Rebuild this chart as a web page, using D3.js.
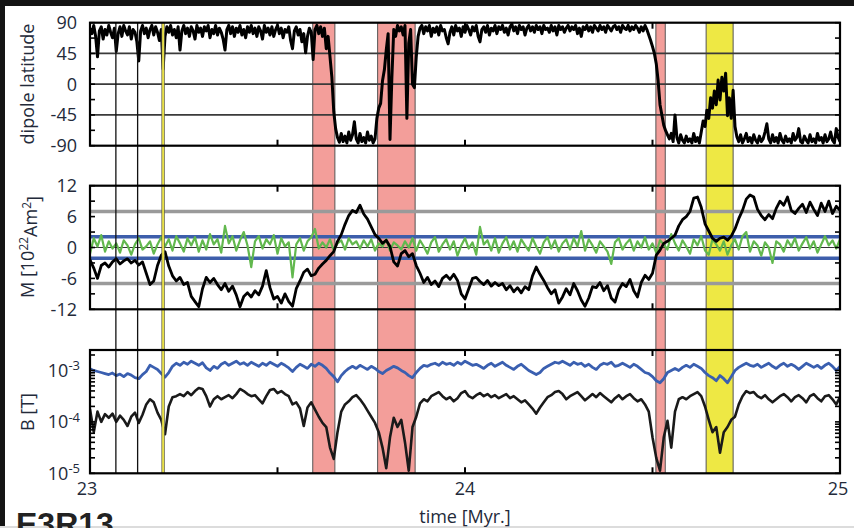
<!DOCTYPE html>
<html>
<head>
<meta charset="utf-8">
<script src="https://cdn.jsdelivr.net/npm/d3@7/dist/d3.min.js"></script>
<style>
  html, body { margin: 0; padding: 0; background: #fff; }
  svg { display: block; }
  text { font-family: "Open Sans", "Noto Sans", sans-serif; fill: #232a3a; }
</style>
</head>
<body>
<svg id="chart" width="854" height="528"></svg>
<script>
// ---- time axis: series start at 23 Myr ----
const timeStart = 23;
const latStep = 0.005;   // latitude sampled every 0.005 Myr
const timeStep = 0.01;   // other series every 0.01 Myr

// dipole latitude [deg]
const dipoleLatitude = [
  82,74,86,70,40,78,84,66,80,72, 86,76,68,82,48,74,84,70,86,78,
  72,84,66,80,76,62,34,78,86,74, 82,68,80,86,72,84,76,64,80,22,
  70,84,76,86,72,80,68,84,50,78, 86,74,82,70,84,78,66,86,76,82,
  70,84,78,86,68,80,74,86,72,82, 76,66,50,80,86,74,84,70,82,76,
  86,72,80,68,84,76,86,74,82,70, 84,78,66,86,76,82,72,84,70,80,
  86,74,82,68,80,76,84,64,52,78, 84,72,80,62,74,46,70,82,76,36,
  80,86,74,84,70,82,52,70,40,10, -40,-65,-78,-85,-72,-84,-76,-86,-70,-82,
  -74,-55,-80,-86,-72,-84,-78,-86,-70,-82, -76,-86,-80,-50,-35,-28,5,21,50,74,
  -81,10,80,70,86,78,84,72,86,-50, 60,80,0,-5,40,70,82,86,74,84,
  78,86,70,82,76,84,72,86,78,80, 68,59,76,84,72,86,78,82,70,84,
  76,86,80,72,84,78,86,70,62,80, 84,76,86,72,82,78,86,74,84,80,
  86,76,82,72,84,88,78,84,74,86, 80,84,72,82,86,78,84,76,86,80,
  84,74,86,80,82,76,86,78,84,72, 86,80,84,76,82,86,78,84,80,86,
  74,82,70,84,80,86,78,84,76,86, 82,78,86,80,84,76,86,82,78,84,
  86,80,84,76,86,82,80,86,78,84, 80,86,82,76,84,78,86,80,72,64,
  55,45,30,5,-30,-45,-60,-68,-74,-80, -72,-84,-45,-78,-86,-74,-82,-86,-76,-84,
  -80,-86,-72,-84,-78,-86,-70,-54,-62,-38, -50,-20,-35,-10,-30,6,-23,10,-10,16,
  -46,-20,-50,-9,-62,-77,-84,-74,-86,-80, -72,-84,-78,-86,-74,-82,-86,-76,-84,-80,
  -70,-58,-80,-86,-74,-84,-78,-86,-72,-82, -86,-76,-84,-80,-86,-72,-82,-78,-65,-84,
  -86,-76,-82,-86,-74,-84,-80,-86,-72,-82, -78,-86,-74,-84,-80,-70,-82,-86,-65,-78,
  -84
];

// axial dipole moment M [10^22 Am^2]
const momentAxial = [
  -2.4,-4,-6,-3.5,-3,-3.8,-2.8,-2.2,-3.2,-2.6, -2.2,-3,-2.5,-3.4,-2.8,-5,-7.2,-6.5,-3.5,-1.5,
  -0.8,-3.6,-5.5,-6.5,-5.8,-7.2,-6.8,-9.5,-10.5,-11.5, -8,-5.8,-6.8,-6,-7.2,-8.2,-7,-8.5,-7.5,-9.2,
  -11.5,-9.5,-8.8,-9.6,-8.4,-9.2,-7.5,-4.5,-7.8,-10, -9.5,-10.8,-9,-10.5,-11.4,-8,-6.5,-4.8,-4.2,-5.5,
  -5.2,-4,-3.2,-2.5,-1.6,-0.8,1.2,2.5,4.5,6.2, 7.2,6.8,8.2,6.5,5.5,4,2.5,1.8,0.8,1.4,
  0.2,-2.8,-3.6,-1.2,-0.6,-1.8,-1.2,-3.5,-5,-6.8, -5.8,-7.2,-6.5,-7.6,-6,-5.4,-6.2,-5.2,-6.4,-9,
  -10,-8,-6,-5.8,-6.6,-7.2,-6.4,-7.5,-6.8,-7.4, -7,-8.2,-7.4,-8.6,-7.8,-8.8,-7.6,-8.2,-5.5,-3.8,
  -5.2,-6.4,-7.8,-9,-8.2,-10.8,-9.6,-8,-9.2,-7, -8.4,-10.2,-11.4,-9.8,-7.6,-7.8,-6.8,-8.4,-7.4,-9.8,
  -10.6,-8.2,-7,-7.6,-6.2,-8.4,-9.6,-6.8,-5.4,-6.2, -5,-1.5,-0.5,0.8,1.2,1.8,2.4,4.2,5.4,6,
  7,9.6,9.8,7.8,4.6,3.2,1.8,1.2,1.8,2.0, 1.4,2.2,3.6,5.6,7.2,9.4,10.2,9.8,7.4,6.2,
  5.4,6.4,5.6,7.6,9,8.2,9.8,7.2,6.6,7.6, 8.4,6.8,8.8,7.4,6.2,8.6,7,9,6.6,8,
  7.2
];

// equatorial dipole component [10^22 Am^2]
const momentEquatorial = [
  -1.2,1.8,0.2,2.4,-0.8,1.2,-0.2,0.8,-1.0,1.4, 0.4,-1.4,0.6,1.8,-0.4,0.2,1.2,-1.2,0.6,2.0,
  0.2,1.6,-0.6,2.2,0.8,-0.8,1.8,0.4,2.0,-0.8, 1.4,-0.4,2.6,0.6,1.6,-1.0,4.2,0.8,2.2,-0.6,
  1.4,3.0,0.4,-3.8,1.2,2.2,-0.2,1.6,0.6,2.4, -1.2,1.8,0.2,1.0,-5.8,0.6,1.8,-0.6,1.2,2.0,
  3.6,-0.2,1.0,0.0,1.6,-0.6,0.8,1.4,-0.4,1.8, 0.6,1.2,-0.2,1.4,0.2,1.6,-0.6,0.8,0.2,1.6,
  -0.6,1.0,0.4,-0.4,1.2,0.0,1.8,-0.6,1.4,0.2, -1.2,1.0,2.0,-0.8,0.6,1.6,-0.4,1.2,-1.6,0.4,
  1.8,-0.2,1.0,-1.4,4.0,0.6,1.4,-0.6,1.8,-1.0, 0.8,2.0,-0.4,1.2,-0.8,1.6,0.4,-0.6,1.8,0.2,
  -1.2,1.0,2.0,-0.2,1.4,-0.8,0.8,1.6,-0.4,1.8, 0.2,3.2,-0.6,1.6,0.4,-1.0,1.2,0.2,-0.8,-3.2,
  1.0,1.8,-0.4,0.8,1.6,-0.6,1.2,0.0,2.0,-0.4, 0.8,-1.0,1.4,0.6,-0.4,2.6,0.8,-0.6,1.4,0.2,
  -1.2,1.6,0.4,2.2,-0.6,-1.4,1.6,0.6,-0.6,1.2, -1.4,0.4,1.6,-0.4,2.2,3.0,-0.8,1.2,0.4,-1.6,
  1.0,0.0,-3.0,1.2,0.6,-0.8,1.4,0.2,1.8,-0.6, 0.8,2.0,-0.2,1.2,-1.0,0.6,2.2,0.4,1.4,-0.2,
  1.6
];

// field strength, log10 of B [T]: RMS field (blue) and dipole field (black)
const log10FieldRms = [
  -2.97,-3.0,-3.02,-3.04,-3.06,-3.08,-3.05,-3.1,-3.07,-3.12, -3.06,-3.09,-3.14,-3.16,-3.08,-3.02,-2.9,-2.94,-2.98,-3.06,
  -3.13,-3.04,-2.92,-2.86,-2.9,-2.84,-2.88,-2.82,-2.86,-2.9, -2.85,-2.95,-3.0,-2.92,-2.96,-2.88,-2.84,-2.9,-2.86,-2.82,
  -2.88,-2.85,-2.9,-2.84,-2.88,-2.92,-2.86,-2.9,-2.84,-2.88, -2.92,-2.86,-2.9,-2.95,-3.02,-2.94,-2.88,-2.92,-2.96,-2.88,
  -2.92,-2.86,-2.9,-2.96,-3.05,-3.12,-3.22,-3.1,-3.02,-2.96, -2.92,-2.96,-2.9,-2.94,-2.98,-2.92,-2.96,-3.02,-3.06,-3.0,
  -2.96,-2.92,-2.95,-3.0,-3.04,-3.1,-3.14,-3.04,-2.96,-2.9, -2.92,-2.88,-2.86,-2.9,-2.84,-2.88,-2.86,-2.9,-2.84,-2.88,
  -2.82,-2.86,-2.9,-2.88,-2.92,-2.96,-2.9,-2.86,-2.92,-2.88, -2.84,-2.9,-2.94,-2.98,-2.92,-2.88,-2.94,-3.0,-3.04,-3.08,
  -3.04,-2.96,-2.92,-2.88,-2.84,-2.86,-2.82,-2.86,-2.9,-2.84, -2.88,-2.86,-2.92,-2.88,-2.94,-2.98,-2.9,-2.86,-2.88,-2.84,
  -2.92,-2.9,-2.86,-2.9,-2.94,-2.88,-2.92,-2.98,-3.04,-3.06, -3.12,-3.2,-3.24,-3.16,-3.04,-3.0,-2.96,-3.0,-2.94,-2.9,
  -2.94,-2.88,-2.92,-2.96,-3.04,-3.1,-3.14,-3.2,-3.1,-3.16, -3.24,-3.12,-3.0,-2.94,-2.9,-2.86,-2.9,-2.92,-2.88,-2.94,
  -2.9,-2.86,-2.92,-2.96,-2.9,-2.86,-2.92,-2.88,-2.92,-2.98, -2.92,-2.86,-2.9,-2.94,-2.9,-2.96,-2.9,-2.86,-2.92,-3.0,
  -2.92
];
const log10FieldDipole = [
  -3.75,-4.2,-3.8,-4.0,-3.85,-3.92,-3.84,-4.0,-3.88,-3.96, -4.08,-3.9,-3.82,-4.02,-3.86,-3.66,-3.56,-3.62,-3.82,-3.96,
  -4.24,-3.7,-3.52,-3.5,-3.46,-3.5,-3.42,-3.48,-3.4,-3.34, -3.36,-3.5,-3.7,-3.56,-3.5,-3.56,-3.52,-3.48,-3.54,-3.46,
  -3.36,-3.4,-3.46,-3.5,-3.48,-3.56,-3.64,-3.5,-3.38,-3.36, -3.44,-3.4,-3.46,-3.5,-3.66,-3.62,-3.74,-4.08,-3.72,-3.62,
  -3.76,-3.9,-4.02,-4.1,-4.5,-4.72,-4.2,-3.8,-3.66,-3.6, -3.52,-3.48,-3.56,-3.66,-3.78,-3.9,-4.02,-4.2,-4.5,-4.9,
  -4.3,-3.92,-4.1,-3.96,-4.4,-4.95,-4.1,-3.9,-3.64,-3.56, -3.6,-3.5,-3.46,-3.42,-3.5,-3.56,-3.52,-3.6,-3.54,-3.44,
  -3.4,-3.5,-3.54,-3.48,-3.44,-3.5,-3.46,-3.52,-3.48,-3.54, -3.5,-3.46,-3.54,-3.5,-3.56,-3.62,-3.58,-3.66,-3.74,-3.84,
  -3.72,-3.62,-3.52,-3.48,-3.42,-3.4,-3.46,-3.56,-3.5,-3.46, -3.42,-3.5,-3.58,-3.52,-3.46,-3.52,-3.44,-3.5,-3.56,-3.62,
  -3.54,-3.48,-3.56,-3.5,-3.46,-3.54,-3.6,-3.56,-3.66,-3.8, -4.3,-4.7,-4.95,-4.3,-3.98,-4.5,-3.8,-3.56,-3.52,-3.56,
  -3.5,-3.46,-3.42,-3.5,-3.7,-3.96,-4.2,-4.1,-4.6,-4.2, -4.1,-3.96,-3.9,-3.66,-3.5,-3.4,-3.44,-3.42,-3.5,-3.54,
  -3.48,-3.56,-3.62,-3.56,-3.5,-3.46,-3.52,-3.6,-3.52,-3.48, -3.54,-3.62,-3.5,-3.46,-3.54,-3.6,-3.5,-3.48,-3.56,-3.66,
  -3.52
];

// highlighted intervals [Myr]: reversals (red) and excursion (yellow)
const reversalIntervals = [[23.594, 23.653], [23.767, 23.867], [24.509, 24.534]];
const excursionIntervals = [[24.643, 24.715]];
// marker times drawn as thin vertical lines
const markerLines = [23.069, 23.127];
const markerYellow = [23.195];

// tick labels
const latTicks = [90, 45, 0, -45, -90];
const latGrid = [45, 0, -45];
const momentTicks = [12, 6, 0, -6, -12];
const momentRefGray = [7, -7];
const momentRefBlue = [2.1, -2.1];
const fieldTicks = [1e-3, 1e-4, 1e-5];
const timeTicks = [23, 24, 25];

// ---- layout ----
const svg = d3.select("#chart");
const X0 = 90, X1 = 840;
const panels = {
  lat: [22.7, 145.7],
  mom: [185.7, 309.3],
  fld: [350, 473.3]
};

const x = d3.scaleLinear([23, 25], [X0, X1]);
const yLat = d3.scaleLinear([-90, 90], [panels.lat[1], panels.lat[0]]);
const yMom = d3.scaleLinear([-12, 12], [panels.mom[1], panels.mom[0]]);
const yFld = d3.scaleLog([1e-5, 2.5e-3], [panels.fld[1], panels.fld[0]]);

// page frame
svg.append("rect").attr("x", 0).attr("y", 0).attr("width", 854).attr("height", 6).attr("fill", "#141414");
svg.append("rect").attr("x", 0).attr("y", 0).attr("width", 5).attr("height", 528).attr("fill", "#141414");
svg.append("rect").attr("x", 0).attr("y", 526).attr("width", 854).attr("height", 2).attr("fill", "#dcdcdc");

// clip paths per panel
const defs = svg.append("defs");
Object.entries(panels).forEach(([k, [a, b]]) => {
  defs.append("clipPath").attr("id", "clip-" + k)
    .append("rect").attr("x", X0).attr("y", a).attr("width", X1 - X0).attr("height", b - a);
});

// shaded intervals spanning all panels
const spanTop = panels.lat[0], spanBottom = panels.fld[1];
const bands = svg.append("g");
reversalIntervals.forEach(([a, b]) => {
  bands.append("rect").attr("x", x(a)).attr("y", spanTop).attr("width", x(b) - x(a)).attr("height", spanBottom - spanTop)
    .attr("fill", "#f39e9a").attr("stroke", "#555").attr("stroke-width", 1);
});
excursionIntervals.forEach(([a, b]) => {
  bands.append("rect").attr("x", x(a)).attr("y", spanTop).attr("width", x(b) - x(a)).attr("height", spanBottom - spanTop)
    .attr("fill", "#eee844").attr("stroke", "#555").attr("stroke-width", 1);
});

// horizontal reference lines
const refs = svg.append("g");
latGrid.forEach(v => refs.append("line").attr("x1", X0).attr("x2", X1).attr("y1", yLat(v)).attr("y2", yLat(v))
  .attr("stroke", "#3a3a3a").attr("stroke-width", 1.8));
momentRefGray.forEach(v => refs.append("line").attr("x1", X0).attr("x2", X1).attr("y1", yMom(v)).attr("y2", yMom(v))
  .attr("stroke", "#9a9a9a").attr("stroke-width", 3.5));
refs.append("line").attr("x1", X0).attr("x2", X1).attr("y1", yMom(0)).attr("y2", yMom(0))
  .attr("stroke", "#333").attr("stroke-width", 1);
momentRefBlue.forEach(v => refs.append("line").attr("x1", X0).attr("x2", X1).attr("y1", yMom(v)).attr("y2", yMom(v))
  .attr("stroke", "#3d5eab").attr("stroke-width", 3.5));

// data lines
const lineOf = (yScale, step) => d3.line().x((d, i) => x(timeStart + i * step)).y(d => yScale(d));
const lineLog = d3.line().x((d, i) => x(timeStart + i * timeStep)).y(d => yFld(Math.pow(10, d)));

svg.append("path").datum(dipoleLatitude).attr("clip-path", "url(#clip-lat)")
  .attr("d", lineOf(yLat, latStep)).attr("fill", "none").attr("stroke", "#000").attr("stroke-width", 3).attr("stroke-linejoin", "round");

svg.append("path").datum(momentEquatorial).attr("clip-path", "url(#clip-mom)")
  .attr("d", lineOf(yMom, timeStep)).attr("fill", "none").attr("stroke", "#62b84e").attr("stroke-width", 2.2).attr("stroke-linejoin", "round");
svg.append("path").datum(momentAxial).attr("clip-path", "url(#clip-mom)")
  .attr("d", lineOf(yMom, timeStep)).attr("fill", "none").attr("stroke", "#000").attr("stroke-width", 2.8).attr("stroke-linejoin", "round");

svg.append("path").datum(log10FieldRms).attr("clip-path", "url(#clip-fld)")
  .attr("d", lineLog).attr("fill", "none").attr("stroke", "#3a5fb0").attr("stroke-width", 2.8).attr("stroke-linejoin", "round");
svg.append("path").datum(log10FieldDipole).attr("clip-path", "url(#clip-fld)")
  .attr("d", lineLog).attr("fill", "none").attr("stroke", "#1a1a1a").attr("stroke-width", 2.6).attr("stroke-linejoin", "round");

// vertical marker lines across all panels
markerLines.forEach(t => svg.append("line").attr("x1", x(t)).attr("x2", x(t)).attr("y1", spanTop).attr("y2", spanBottom)
  .attr("stroke", "#111").attr("stroke-width", 1.3));
markerYellow.forEach(t => svg.append("rect").attr("x", x(t) - 1.3).attr("y", spanTop).attr("width", 2.6).attr("height", spanBottom - spanTop)
  .attr("fill", "#e8e04a").attr("stroke", "#444").attr("stroke-width", 0.6));

// axes with inward ticks
function frame(key, yScale, ticks, tickFmt, minorTicks) {
  const [a, b] = panels[key];
  const g = svg.append("g");
  const xt = [23.5, 24, 24.5];
  xt.forEach(t => {
    g.append("line").attr("x1", x(t)).attr("x2", x(t)).attr("y1", b).attr("y2", b - 6).attr("stroke", "#000").attr("stroke-width", 2);
    g.append("line").attr("x1", x(t)).attr("x2", x(t)).attr("y1", a).attr("y2", a + 6).attr("stroke", "#000").attr("stroke-width", 2);
  });
  minorTicks.forEach(v => {
    g.append("line").attr("x1", X0).attr("x2", X0 + 5).attr("y1", yScale(v)).attr("y2", yScale(v)).attr("stroke", "#000").attr("stroke-width", 1.6);
    g.append("line").attr("x1", X1).attr("x2", X1 - 5).attr("y1", yScale(v)).attr("y2", yScale(v)).attr("stroke", "#000").attr("stroke-width", 1.6);
  });
  g.append("rect").attr("x", X0).attr("y", a).attr("width", X1 - X0).attr("height", b - a)
    .attr("fill", "none").attr("stroke", "#000").attr("stroke-width", 2.2);
  ticks.forEach(v => tickFmt(g, v, yScale(v)));
}

const plainLabel = (g, v, yy) => g.append("text").attr("x", 77).attr("y", yy).attr("dy", "0.36em")
  .attr("text-anchor", "end").attr("font-size", 18).text(v);

frame("lat", yLat, latTicks, plainLabel, d3.range(-90, 91, 22.5));
frame("mom", yMom, momentTicks, plainLabel, d3.range(-12, 13, 3));

const logMinor = yFld.ticks().filter(v => v <= 2.5e-3);
frame("fld", yFld, fieldTicks, (g, v, yy) => {
  const t = g.append("text").attr("x", 80).attr("y", yy).attr("dy", "0.36em").attr("text-anchor", "end").attr("font-size", 18);
  t.append("tspan").text("10");
  t.append("tspan").attr("dy", "-0.5em").attr("font-size", 13).text(String(Math.round(Math.log10(v))));
}, logMinor);

// time tick labels
timeTicks.forEach(t => svg.append("text").attr("x", x(t) + (t === 25 ? -2 : (t === 23 ? -3 : 0))).attr("y", 495)
  .attr("text-anchor", "middle").attr("font-size", 18).text(t));
svg.append("text").attr("x", 465).attr("y", 523).attr("text-anchor", "middle").attr("font-size", 18).text("time [Myr.]");

// y-axis titles
svg.append("text").attr("transform", "translate(34,84) rotate(-90)").attr("text-anchor", "middle")
  .attr("font-size", 18).text("dipole latitude");
const mt = svg.append("text").attr("transform", "translate(34,247) rotate(-90)").attr("text-anchor", "middle").attr("font-size", 18);
mt.append("tspan").text("M [10");
mt.append("tspan").attr("dy", "-0.5em").attr("font-size", 12).text("22");
mt.append("tspan").attr("dy", "0.5em").text("Am");
mt.append("tspan").attr("dy", "-0.5em").attr("font-size", 12).text("2");
mt.append("tspan").attr("dy", "0.5em").text("]");
svg.append("text").attr("transform", "translate(34,412) rotate(-90)").attr("text-anchor", "middle")
  .attr("font-size", 18).text("B [T]");

// run label along the lower edge
svg.append("text").attr("x", 16).attr("y", 535).attr("font-size", 32).attr("font-weight", "bold")
  .style("font-family", "'Liberation Sans', Arial, sans-serif").style("fill", "#222").text("E3R13");
</script>
</body>
</html>
